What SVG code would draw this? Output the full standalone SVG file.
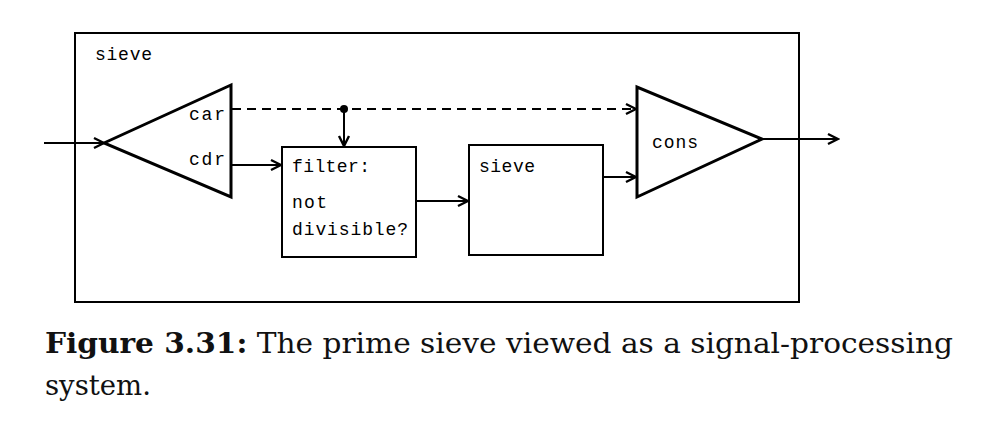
<svg xmlns="http://www.w3.org/2000/svg" width="986" height="425" viewBox="0 0 986 425">
<style>
.ln{stroke:#000;stroke-width:2;fill:none}
.dash{stroke-dasharray:9,6}
.tri{stroke:#000;stroke-width:3;fill:#fff;stroke-linejoin:miter}
.box{stroke:#000;stroke-width:2;fill:#fff}
.lbl{font-family:"Liberation Mono","DejaVu Sans Mono",monospace;font-size:18px;fill:#000}
.cap{font-family:"DejaVu Serif","Liberation Serif",serif;font-size:27.5px;fill:#111}
</style>
<defs>
<marker id="ah" markerWidth="14" markerHeight="14" refX="12" refY="7" orient="auto" markerUnits="userSpaceOnUse">
<path d="M2,2 L12,7 L2,12" fill="none" stroke="#000" stroke-width="2.4"/>
</marker>
</defs>
<rect x="75" y="33" width="724" height="269" fill="#fff" stroke="#000" stroke-width="2"/>
<text class="lbl" x="95" y="60" textLength="57">sieve</text>
<g id="splitter">
<polygon class="tri" points="104,143 231,85 231,197"/>
<text class="lbl" x="189" y="120" textLength="36">car</text>
<text class="lbl" x="189" y="165" textLength="36">cdr</text>
</g>
<g id="filter">
<rect class="box" x="282" y="147" width="134" height="110"/>
<text class="lbl" x="292" y="172" textLength="78">filter:</text>
<text class="lbl" x="292" y="208" textLength="35">not</text>
<text class="lbl" x="292" y="235" textLength="116">divisible?</text>
</g>
<g id="sieve">
<rect class="box" x="469" y="145" width="134" height="110"/>
<text class="lbl" x="479" y="172" textLength="56">sieve</text>
</g>
<g id="cons">
<polygon class="tri" points="637,87 637,197 762,139"/>
<text class="lbl" x="652" y="148" textLength="46">cons</text>
</g>
<g id="connectors">
<line class="ln" x1="44" y1="143" x2="104" y2="143" marker-end="url(#ah)"/>
<line class="ln dash" x1="232" y1="109" x2="636" y2="109" marker-end="url(#ah)"/>
<circle cx="344" cy="109" r="4" fill="#000"/>
<line class="ln" x1="344" y1="111" x2="344" y2="146" marker-end="url(#ah)"/>
<line class="ln" x1="231" y1="165" x2="281" y2="165" marker-end="url(#ah)"/>
<line class="ln" x1="416" y1="201" x2="468" y2="201" marker-end="url(#ah)"/>
<line class="ln" x1="603" y1="177" x2="636" y2="177" marker-end="url(#ah)"/>
<line class="ln" x1="762" y1="139" x2="838" y2="139" marker-end="url(#ah)"/>
</g>
<text class="cap" x="45" y="353" textLength="908" lengthAdjust="spacingAndGlyphs"><tspan font-weight="bold">Figure 3.31:</tspan> The prime sieve viewed as a signal-processing</text>
<text class="cap" x="45" y="395">system.</text>
</svg>
